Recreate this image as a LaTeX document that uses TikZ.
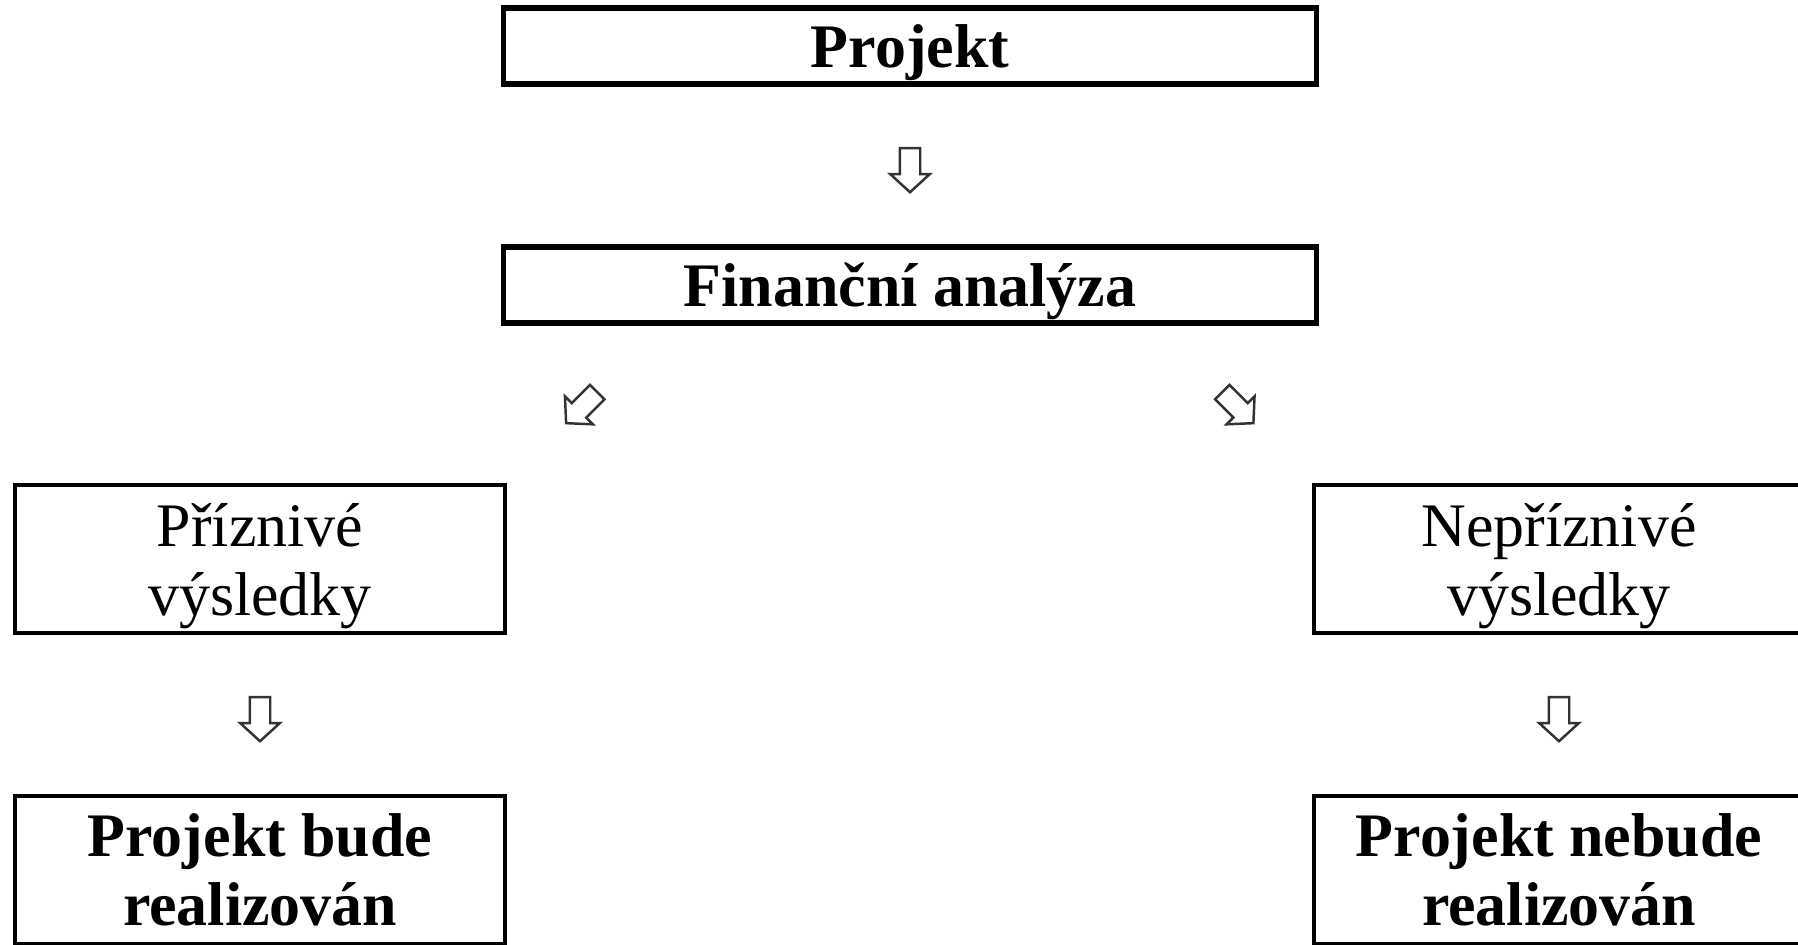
\documentclass[tikz,border=0pt]{standalone}
\usepackage{fontspec}
\setmainfont{Liberation Serif}
\usetikzlibrary{calc,positioning,shapes.arrows}

\begin{document}
\begin{tikzpicture}[x=0.01cm,y=-0.01cm,
    box/.style={draw,line width=1.2pt,inner sep=0pt,align=center,
      font=\fontsize{17.6pt}{19.6pt}\selectfont},
    hlavni/.style={box,line width=1.5pt,minimum width=81.2mm,minimum height=7.6mm,
      font=\fontsize{17.6pt}{19.6pt}\selectfont\bfseries,text height=4.3mm,text depth=0pt},
    vysledek/.style={box,minimum width=49mm,minimum height=14.8mm},
    sipka/.style={single arrow,draw=black!80,fill=white,line width=0.7pt,
      inner xsep=0pt,inner ysep=0.9mm,
      minimum height=4.4mm,single arrow head extend=0.95mm,
      single arrow tip angle=95}]
  \useasboundingbox (0,0) rectangle (1798,944);
  \clip (0,0) rectangle (1798,944);
  \fill[white] (0,0) rectangle (1798,944);

  % horni cast
  \node[hlavni] (proj) at (910,46) {Projekt};
  \node[hlavni] (fin) at (910,285) {Finanční analýza};

  % vysledky analyzy
  \node[vysledek,text depth=-0.6mm] (priz) at (260,559) {Příznivé\\výsledky};
  \node[vysledek,text depth=-0.6mm] (nepriz) at (1559,559) {Nepříznivé\\výsledky};

  % rozhodnuti
  \node[vysledek,font=\fontsize{17.6pt}{19.6pt}\selectfont\bfseries] (real) at (260,870) {Projekt bude\\realizován};
  \node[vysledek,font=\fontsize{17.6pt}{19.6pt}\selectfont\bfseries] (nereal) at (1559,870) {Projekt nebude\\realizován};

  % sipky
  \node[sipka,rotate=-90] (s1) at ($(proj.south)!0.5!(fin.north)$) {};
  \node[sipka,rotate=-135] (s2) at ($(fin.south)!0.5!(priz.north)$) {};
  \node[sipka,rotate=-45] (s3) at ($(fin.south)!0.5!(nepriz.north)$) {};
  \node[sipka,rotate=-90] (s4) at ($(priz.south)!0.5!(real.north)$) {};
  \node[sipka,rotate=-90] (s5) at ($(nepriz.south)!0.5!(nereal.north)$) {};
\end{tikzpicture}
\end{document}
